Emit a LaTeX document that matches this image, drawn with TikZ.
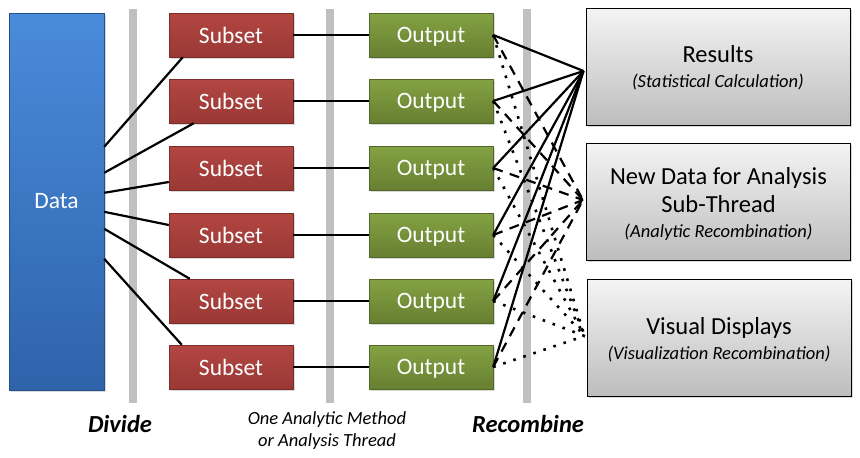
\documentclass[tikz,border=0pt]{standalone}
\usepackage{fontspec}
\setmainfont{Carlito}
\usepackage{tikz}
\usetikzlibrary{calc, shadows}
\definecolor{dataTop}{HTML}{4A8BDB}
\definecolor{dataBottom}{HTML}{2E63AA}
\definecolor{subsetTop}{HTML}{B24642}
\definecolor{subsetBottom}{HTML}{9A3835}
\definecolor{outputTop}{HTML}{83A243}
\definecolor{outputBottom}{HTML}{677F31}
\definecolor{resultTop}{HTML}{F4F4F4}
\definecolor{resultBottom}{HTML}{BDBDBD}
\definecolor{barGray}{HTML}{C0C0C0}
\newcommand{\sublabelfont}{\fontsize{18.5}{25}\selectfont\itshape}

\begin{document}
\begin{tikzpicture}[x=1pt, y=-1pt, line cap=butt,
	softshadow/.style={drop shadow={shadow xshift=1.5pt, shadow yshift=-1.5pt, opacity=0.3}},
	databox/.style={softshadow, top color=dataTop, bottom color=dataBottom, draw=dataBottom!80!black, line width=0.4pt,
		minimum width=95pt, minimum height=377pt, inner sep=0pt, text=white, font=\fontsize{23.5}{26}\selectfont},
	subsetbox/.style={softshadow, top color=subsetTop, bottom color=subsetBottom, draw=subsetBottom!80!black, line width=0.4pt,
		minimum width=124pt, minimum height=44pt, inner sep=0pt, text depth=0pt, text=white, font=\fontsize{23.5}{26}\selectfont},
	outputbox/.style={subsetbox, top color=outputTop, bottom color=outputBottom, draw=outputBottom!80!black},
	resultbox/.style={softshadow, top color=resultTop, bottom color=resultBottom, draw=black, line width=1pt,
		minimum width=264pt, minimum height=117pt, inner sep=0pt, align=center, font=\fontsize{24.5}{28}\selectfont},
	link/.style={line width=2.2pt, black},
	dashlink/.style={link, dash pattern=on 10pt off 7.5pt},
	dotlink/.style={link, line width=2.6pt, dash pattern=on 2.6pt off 8pt},
	steplabel/.style={font=\fontsize{24.5}{28}\selectfont\bfseries\itshape}
	]

	\useasboundingbox (0,0) rectangle (860,458);

	% separators
	\foreach \bx in {133, 330, 527}
		\fill[barGray] (\bx-3.75,9) rectangle (\bx+3.75,403);

	\node[databox] (data) at (56.5,201.5) {Data};

	\foreach \i/\y in {1/35, 2/101, 3/168, 4/235, 5/301, 6/367}{
		\node[subsetbox] (s\i) at (231,\y) {Subset};
		\node[outputbox] (o\i) at (431,\y) {Output};
	}

	\node[resultbox] (res) at (718,66.5) {\rule{0pt}{20pt}Results\\[-3pt]{\sublabelfont (Statistical Calculation)}};
	\node[resultbox] (new) at (718.5,201.5) {\rule{0pt}{22pt}New Data for Analysis\\Sub-Thread\\[-3pt]{\sublabelfont (Analytic Recombination)}};
	\node[resultbox] (vis) at (719,338) {\rule{0pt}{20pt}Visual Displays\\[-3pt]{\sublabelfont (Visualization Recombination)}};

	\coordinate (rc) at ($(res.west)+(-2,4.5)$);
	\coordinate (nc) at ($(new.west)+(-3,-1.5)$);
	\coordinate (vc) at ($(vis.west)+(-2,-2)$);

	% divide
	\draw[link] ($(data.north east)+(0,134)$) -- ($(s1.south west)+(14,0)$);
	\draw[link] ($(data.north east)+(0,160)$) -- ($(s2.south west)+(25,0)$);
	\draw[link] ($(data.north east)+(0,180)$) -- ($(s3.west)+(0,14)$);
	\draw[link] ($(data.north east)+(0,199)$) -- ($(s4.west)+(0,-10)$);
	\draw[link] ($(data.north east)+(0,216)$) -- ($(s5.north west)+(21,0)$);
	\draw[link] ($(data.north east)+(0,246)$) -- ($(s6.north west)+(13,0)$);

	\foreach \i in {1,...,6}
		\draw[link] (s\i.east) -- (o\i.west);

	% recombine
	\foreach \i in {1,...,6}{
		\draw[link] (o\i.east) -- (rc);
		\draw[dashlink] (o\i.east) -- (nc);
		\draw[dotlink] (o\i.east) -- (vc);
	}

	\node[steplabel] (divide) at (120,424) {Divide};
	\node[font=\fontsize{18.5}{22}\selectfont\itshape, align=center] (method) at (327,431) {One Analytic Method\\or Analysis Thread};
	\node[steplabel] (recombine) at (528,424) {Recombine};

\end{tikzpicture}
\end{document}
